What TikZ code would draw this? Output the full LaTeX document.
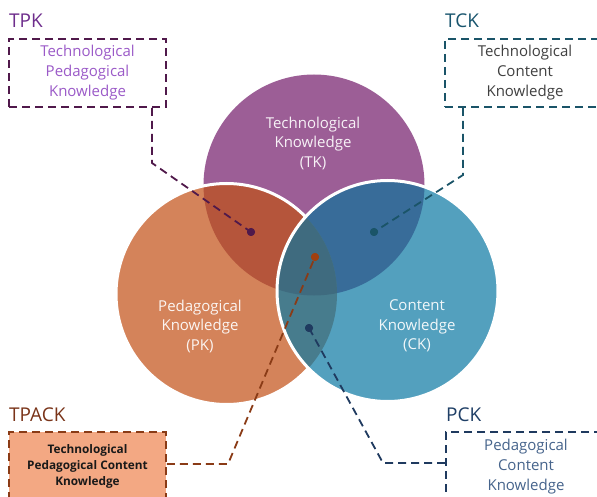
\documentclass[tikz,border=0pt]{standalone}
\usepackage{fontspec}
\setmainfont{Open Sans}
\usetikzlibrary{positioning}
\definecolor{tkcol}{HTML}{9C5E96}
\definecolor{pkcol}{HTML}{D4835A}
\definecolor{ckcol}{HTML}{53A0BE}
\definecolor{tpkcol}{HTML}{B5553B}
\definecolor{tckcol}{HTML}{386C99}
\definecolor{pckcol}{HTML}{477C8D}
\definecolor{tpackcol}{HTML}{3F6B7F}
\definecolor{tpkdark}{HTML}{50194B}
\definecolor{tpktext}{HTML}{9B5AC8}
\definecolor{tpktitle}{HTML}{6E2D8C}
\definecolor{tckdark}{HTML}{1A5468}
\definecolor{tcktitle}{HTML}{19556E}
\definecolor{tpackdark}{HTML}{8A3B16}
\definecolor{tpacktitle}{HTML}{7A3419}
\definecolor{tpackfill}{HTML}{F3A883}
\definecolor{tpackdot}{HTML}{A0400F}
\definecolor{pckdark}{HTML}{1F3A5F}
\definecolor{pcktitle}{HTML}{1F3F66}
\definecolor{pcktext}{HTML}{46648C}

\begin{document}
\begin{tikzpicture}[x=1pt, y=-1pt,
    vennlabel/.style={text=white, text opacity=0.92, align=center, font=\fontsize{15}{19.5}\selectfont},
    vennrim/.style={draw=white, line width=3pt},
    tagtext/.style={anchor=west, inner sep=0pt, font=\fontsize{19}{22}\selectfont},
    infobox/.style={line width=1.8pt, dash pattern=on 8pt off 5pt, align=center, minimum width=157pt, minimum height=68pt, font=\fontsize{15}{20}\selectfont},
    leader/.style={line width=1.8pt, dash pattern=on 8pt off 5pt},
    pindot/.style={circle, inner sep=0pt, minimum size=8pt}
]
\clip (0,0) rectangle (597,497);
\fill[white] (0,0) rectangle (597,497);

% Circle centres and radius
\def\vennr{110.5pt}
\coordinate (tkc) at (314,185);
\coordinate (pkc) at (226.5,294);
\coordinate (ckc) at (387.5,291);

% TK at the back
\fill[tkcol] (tkc) circle[radius=\vennr];
% PK over TK
\fill[pkcol] (pkc) circle[radius=\vennr];
\begin{scope}
  \clip (pkc) circle[radius=\vennr];
  \fill[tpkcol] (tkc) circle[radius=\vennr];
\end{scope}
\draw[vennrim] (pkc) circle[radius=\vennr];
% CK on top
\fill[ckcol] (ckc) circle[radius=\vennr];
\begin{scope}
  \clip (ckc) circle[radius=\vennr];
  \fill[tckcol] (tkc) circle[radius=\vennr];
  \fill[pckcol] (pkc) circle[radius=\vennr];
  \clip (tkc) circle[radius=\vennr];
  \fill[tpackcol] (pkc) circle[radius=\vennr];
\end{scope}
\draw[vennrim] (ckc) circle[radius=\vennr];

% Circle labels
\node[vennlabel] (tklabel) at (313,143) {Technological\\Knowledge\\(TK)};
\node[vennlabel] (pklabel) at (200,326) {Pedagogical\\Knowledge\\(PK)};
\node[vennlabel] (cklabel) at (417,326) {Content\\Knowledge\\(CK)};

% Corner tags
\node[tagtext, text=tpktitle] (tpktag) at (9,21) {TPK};
\node[tagtext, text=tcktitle] (tcktag) at (445,21) {TCK};
\node[tagtext, text=tpacktitle] (tpacktag) at (9,415) {TPACK};
\node[tagtext, text=pcktitle] (pcktag) at (446,415) {PCK};

% Corner boxes
\node[infobox, draw=tpkdark, text=tpktext] (tpkbox) at (87.5,73) {Technological\\Pedagogical\\Knowledge};
\node[infobox, draw=tckdark, text=black!75, minimum width=160pt] (tckbox) at (525,73) {Technological\\Content\\Knowledge};
\node[infobox, draw=tpackdark, fill=tpackfill, text=black!90, font=\fontsize{11.8}{16}\selectfont\bfseries] (tpackbox) at (87.5,466) {Technological\\Pedagogical Content\\Knowledge};
\node[infobox, draw=pckdark, text=pcktext, minimum width=160pt, minimum height=70pt] (pckbox) at (526,467) {Pedagogical\\Content\\Knowledge};

% Dots in the overlaps
\coordinate (tpkbend) at (152,163);
\coordinate (tckbend) at (463,175);
\coordinate (tpackbend) at (228,464);
\coordinate (pckbend) at (383,463);
\node[pindot, fill=tpkdark] (tpkdot) at (251,232) {};
\node[pindot, fill=tckdark] (tckdot) at (374,232) {};
\node[pindot, fill=tpackdot] (tpackdot) at (315,257) {};
\node[pindot, fill=pckdark] (pckdot) at (309,328) {};

% Leaders from boxes to dots
\draw[leader, draw=tpkdark] (tpkbox.south -| tpkbend) -- (tpkbend) -- (tpkdot.center);
\draw[leader, draw=tckdark] (tckbox.south -| tckbend) -- (tckbend) -- (tckdot.center);
\draw[leader, draw=tpackdark] (tpackbox.east |- tpackbend) -- (tpackbend) -- (tpackdot.center);
\draw[leader, draw=pckdark] (pckbox.west |- pckbend) -- (pckbend) -- (pckdot.center);
\node[pindot, fill=tpkdark] at (tpkdot) {};
\node[pindot, fill=tckdark] at (tckdot) {};
\node[pindot, fill=tpackdot] at (tpackdot) {};
\node[pindot, fill=pckdark] at (pckdot) {};

\end{tikzpicture}
\end{document}
